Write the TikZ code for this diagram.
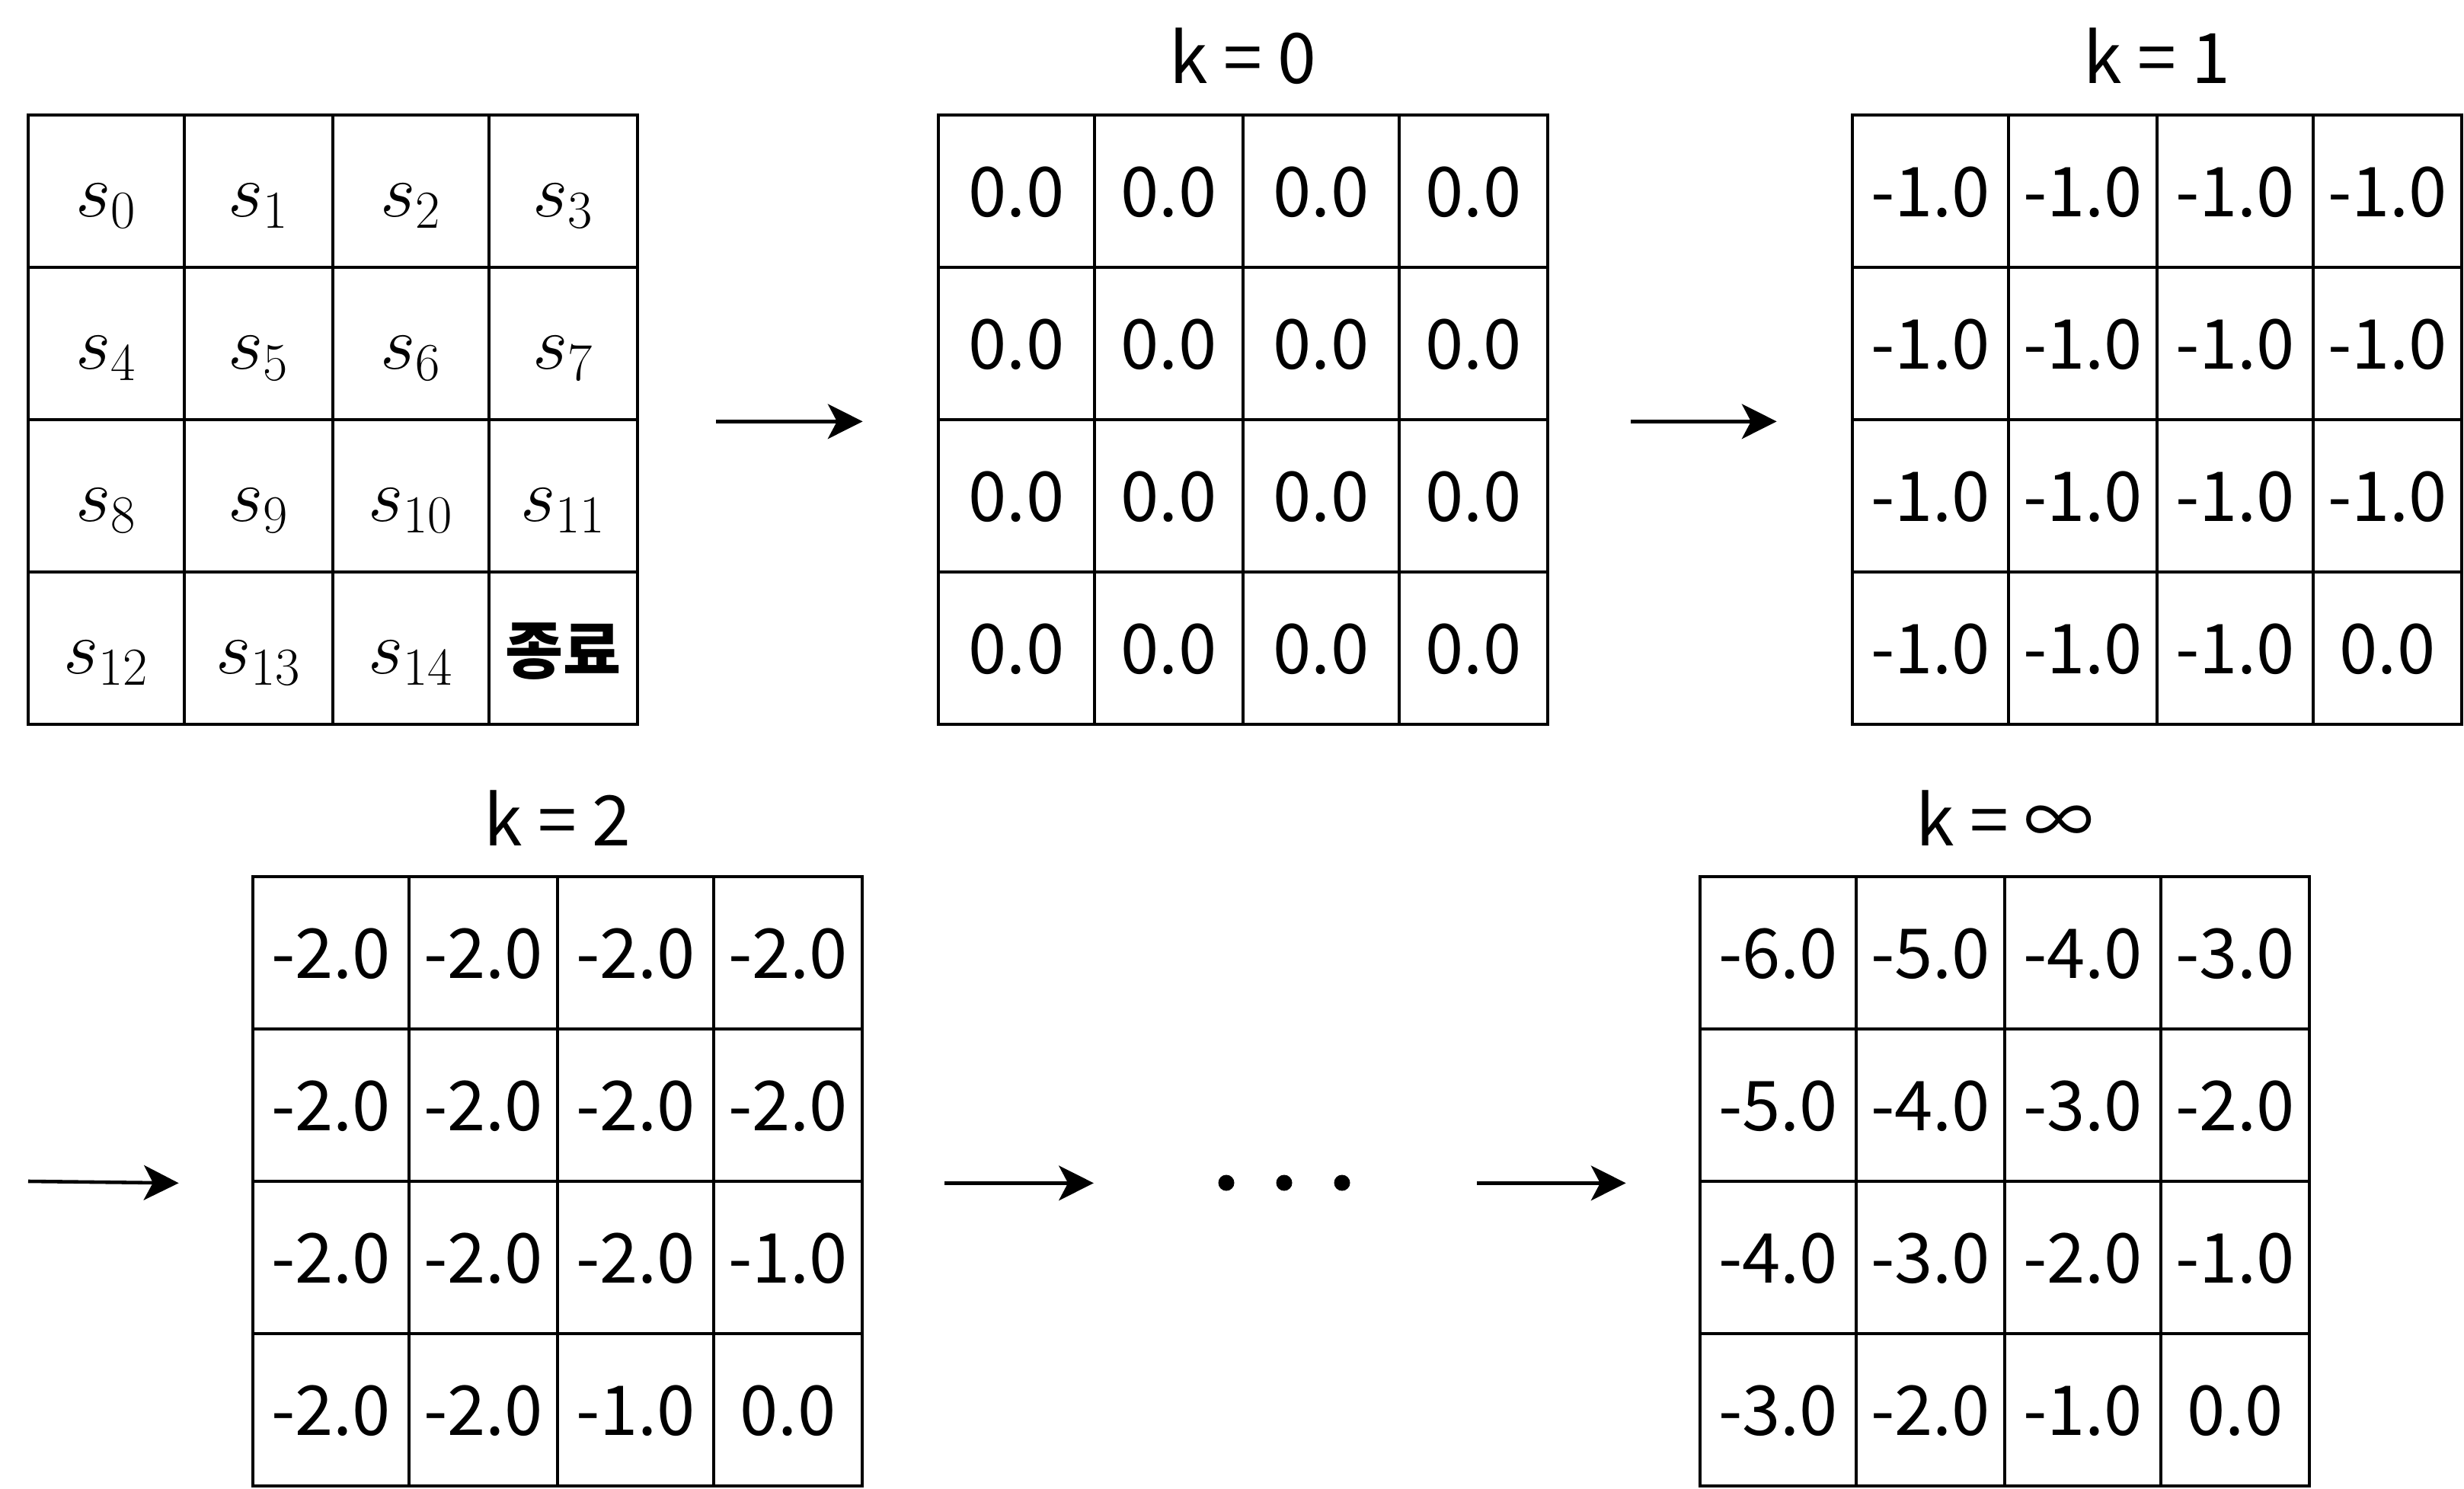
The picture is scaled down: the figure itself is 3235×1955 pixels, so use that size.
\documentclass[tikz,border=0pt]{standalone}
\usepackage{fix-cm}
\usepackage{fontspec}
\setmainfont{Noto Sans CJK KR}
\usetikzlibrary{arrows.meta}

\tikzset{
    cell/.style={rectangle, draw, line width=1.3pt, minimum height=2cm, inner sep=0pt,
        text height=0.66cm, text depth=0cm, font=\fontsize{25.7}{31}\selectfont},
    title/.style={anchor=base, inner sep=0pt, font=\fontsize{26}{31}\selectfont},
    arr/.style={-{Stealth[length=13pt, width=13pt, inset=3.4pt]}, line width=1.3pt},
    dot/.style={circle, fill, minimum size=0.21cm, inner sep=0pt}
}

% one 4x4 grid of values: name, left, top, values
\newcommand{\valgrid}[4]{%
    \foreach \v [count=\i from 0] in {#4} {
        \pgfmathtruncatemacro{\r}{div(\i,4)}
        \pgfmathtruncatemacro{\c}{mod(\i,4)}
        \pgfmathsetmacro{\w}{mod(\c,2)==0 ? 2.05 : 1.95}
        \node[cell, minimum width=\w cm] (#1-\i) at ({#2+102.5+200*\c}, {#3+100+200*\r}) {\v};
    }%
}
\newcommand{\termtext}{{\fontsize{23.5}{28}\selectfont\bfseries 종료}}

\begin{document}
\begin{tikzpicture}[x=0.01cm, y=-0.01cm]
    \useasboundingbox (0,0) rectangle (3235,1955);

    % states
    \foreach \v [count=\i from 0] in {$s_0$,$s_1$,$s_2$,$s_3$,$s_4$,$s_5$,$s_6$,$s_7$,
            $s_8$,$s_9$,$s_{10}$,$s_{11}$,$s_{12}$,$s_{13}$,$s_{14}$,\termtext} {
        \pgfmathtruncatemacro{\r}{div(\i,4)}
        \pgfmathtruncatemacro{\c}{mod(\i,4)}
        \pgfmathsetmacro{\w}{mod(\c,2)==0 ? 2.05 : 1.95}
        \node[cell, minimum width=\w cm, font=\fontsize{28.5}{34}\selectfont] (s-\i)
            at ({37+102.5+200*\c}, {151+100+200*\r}) {\v};
    }

    % value grids
    \valgrid{k0}{1232}{151}{0.0,0.0,0.0,0.0,0.0,0.0,0.0,0.0,0.0,0.0,0.0,0.0,0.0,0.0,0.0,0.0}
    \valgrid{k1}{2432}{151}{-1.0,-1.0,-1.0,-1.0,-1.0,-1.0,-1.0,-1.0,-1.0,-1.0,-1.0,-1.0,-1.0,-1.0,-1.0,0.0}
    \valgrid{k2}{332}{1151}{-2.0,-2.0,-2.0,-2.0,-2.0,-2.0,-2.0,-2.0,-2.0,-2.0,-2.0,-1.0,-2.0,-2.0,-1.0,0.0}
    \valgrid{kinf}{2232}{1151}{-6.0,-5.0,-4.0,-3.0,-5.0,-4.0,-3.0,-2.0,-4.0,-3.0,-2.0,-1.0,-3.0,-2.0,-1.0,0.0}

    % titles
    \node[title] (t0) at (1632,110) {k = 0};
    \node[title] (t1) at (2832,110) {k = 1};
    \node[title] (t2) at (732,1110) {k = 2};
    \node[title] (tinf) at (2632,1110) {k = ∞};

    % dots
    \node[dot] (dot1) at (1610,1553) {};
    \node[dot] (dot2) at (1686,1553) {};
    \node[dot] (dot3) at (1762,1553) {};

    % arrows
    \coordinate (start2) at (37,1551);
    \draw[arr] ([xshift=1.01cm]s-7.south east) -- ([xshift=-0.97cm]k0-4.south west);
    \draw[arr] ([xshift=1.07cm]k0-7.south east) -- ([xshift=-0.97cm]k1-4.south west);
    \draw[arr] (start2) -- ([xshift=-0.95cm]k2-4.south west);
    \draw[arr] ([xshift=1.06cm]k2-7.south east) -- ([xshift=-1.74cm]dot1.center |- k2-7.south east);
    \draw[arr] ([xshift=1.77cm]dot3.center |- kinf-4.south west) -- ([xshift=-0.95cm]kinf-4.south west);
\end{tikzpicture}
\end{document}
